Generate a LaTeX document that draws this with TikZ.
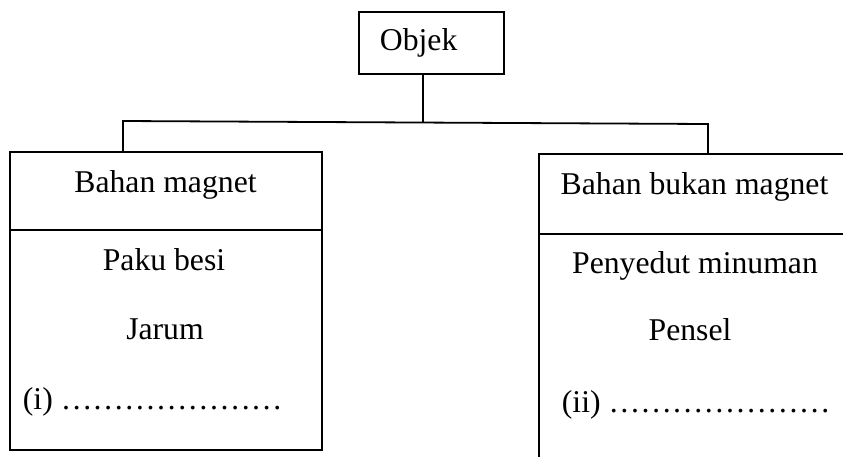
\documentclass[tikz,border=0pt]{standalone}
\usepackage{fontspec}
\setmainfont{Liberation Serif}
\begin{document}
\begin{tikzpicture}[x=1pt,y=-1pt,line width=1.8pt,
  box/.style={draw,line width=1.8pt,inner sep=0pt,anchor=north west},
  txt/.style={anchor=base,inner sep=0pt,font=\fontsize{31.7}{38}\selectfont},
  txtl/.style={txt,anchor=base west}]
\useasboundingbox (0,0) rectangle (843,456);
\begin{scope}
\clip (0,0) rectangle (843,456);
% boxes
\node[box,minimum width=145pt,minimum height=62pt] (objek) at (358,11) {};
\node[box,minimum width=312pt,minimum height=78pt] (lhead) at (9,151) {};
\node[box,minimum width=312pt,minimum height=220pt] (lbody) at (9,229) {};
\node[box,minimum width=313pt,minimum height=80pt] (rhead) at (538,153) {};
\node[box,minimum width=313pt,minimum height=260pt] (rbody) at (538,233) {};
% connectors
\coordinate (cl) at (123,121);
\coordinate (cr) at (708,124);
\coordinate (cm) at (423,122.5);
\draw (objek.south -| cm) -- (cm);
\draw (lhead.north -| cl) -- (cl) -- (cr) -- (rhead.north -| cr);
% texts
\node[txtl] (tobjek) at (379,50) {Objek};
\node[txt] (t1) at (165.5,192) {Bahan magnet};
\node[txt] (t2) at (164,270) {Paku besi};
\node[txt] (t3) at (165,339) {Jarum};
\node[txtl] (t4) at (22,409) {(i) …………………};
\node[txt] (t5) at (694.5,194) {Bahan bukan magnet};
\node[txt] (t6) at (695,273) {Penyedut minuman};
\node[txt] (t7) at (690,340) {Pensel};
\node[txtl] (t8) at (561,412) {(ii) …………………};
\end{scope}
\end{tikzpicture}
\end{document}
